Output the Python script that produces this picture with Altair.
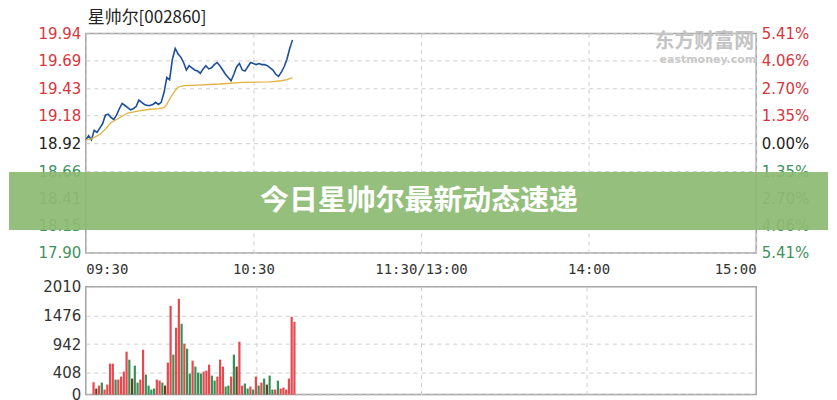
import json
import altair as alt
import pandas as pd

# ---------------- data ----------------
TITLE = "星帅尔[002860]"
BANNER = "今日星帅尔最新动态速递"
WM_CN = "东方财富网"
WM_EN = "eastmoney.com"

time_ticks = [0, 60, 120, 180, 240]
time_labels = ["09:30", "10:30", "11:30/13:00", "14:00", "15:00"]
price_ticks = [17.90, 18.15, 18.41, 18.66, 18.92, 19.18, 19.43, 19.69, 19.94]
pct_labels = ["5.41%", "4.06%", "2.70%", "1.35%", "0.00%", "1.35%", "2.70%", "4.06%", "5.41%"]
prev_close = 18.92
vol_ticks = [0, 408, 942, 1476, 2010]

price_min = list(range(75))
price_val = [18.95, 18.99, 18.95, 19.04, 19.02, 19.06, 19.10, 19.18, 19.19, 19.16,
             19.14, 19.18, 19.24, 19.29, 19.27, 19.25, 19.23, 19.24, 19.26, 19.32,
             19.30, 19.28, 19.27, 19.27, 19.28, 19.30, 19.28, 19.30, 19.39, 19.53,
             19.51, 19.70, 19.80, 19.75, 19.72, 19.67, 19.60, 19.64, 19.62, 19.60,
             19.59, 19.57, 19.61, 19.64, 19.61, 19.62, 19.65, 19.67, 19.64, 19.60,
             19.56, 19.53, 19.50, 19.56, 19.63, 19.66, 19.60, 19.59, 19.63, 19.67,
             19.66, 19.65, 19.66, 19.65, 19.65, 19.64, 19.62, 19.60, 19.56, 19.54,
             19.58, 19.63, 19.70, 19.80, 19.88]

avg_min = [0, 2, 5, 7, 9, 11, 13, 15, 19, 23, 26, 28, 29, 30, 31, 32, 33, 35, 40, 48, 56, 66, 70, 72, 74]
avg_val = [18.95, 18.96, 19.00, 19.05, 19.11, 19.14, 19.17, 19.20, 19.22, 19.235, 19.24, 19.25,
           19.28, 19.33, 19.37, 19.41, 19.44, 19.455, 19.46, 19.47, 19.485, 19.49, 19.50, 19.51, 19.53]

vol_min = list(range(1, 75))
vol_val = [229, 112, 167, 223, 93, 186, 577, 577, 279, 279,
           335, 428, 800, 651, 298, 540, 223, 279, 837, 372,
           167, 93, 112, 279, 260, 223, 167, 595, 1655, 744,
           1246, 1786, 1320, 949, 856, 391, 632, 521, 409, 391,
           428, 446, 558, 353, 260, 335, 651, 521, 149, 167,
           335, 744, 521, 986, 167, 205, 112, 149, 93, 335,
           167, 223, 298, 186, 353, 93, 93, 260, 112, 130,
           93, 298, 1450, 1357]
vol_dir = ["u", "f", "u", "d", "u", "u", "u", "u", "d", "u",
           "u", "u", "u", "d", "f", "d", "d", "u", "u", "d",
           "d", "d", "d", "u", "u", "d", "f", "u", "u", "d",
           "u", "u", "d", "u", "d", "d", "u", "d", "d", "d",
           "u", "u", "u", "d", "d", "u", "u", "u", "d", "d",
           "u", "d", "f", "u", "u", "d", "d", "u", "d", "u",
           "d", "u", "d", "f", "d", "d", "u", "d", "u", "u",
           "u", "u", "u", "u"]

price_df = pd.DataFrame({"m": price_min, "p": price_val})
avg_df = pd.DataFrame({"m": avg_min, "a": avg_val})
vol_df = pd.DataFrame({"m": vol_min, "v": vol_val, "d": vol_dir})

# ---------------- styling ----------------
W, H1, H2 = 672, 220, 108
RED, GREEN, DARK = "#d8353d", "#3f9160", "#222222"
BLUE, GOLD = "#1d4f9a", "#e3b13e"
GRID = "#cfcfcf"
NUM_FONT = "DejaVu Sans"
TIME_FONT = "DejaVu Sans Mono"
CJK = "Noto Sans CJK SC"

label_color = {
    "condition": [
        {"test": f"datum.value > {prev_close + 0.005}", "value": RED},
        {"test": f"datum.value < {prev_close - 0.005}", "value": GREEN},
    ],
    "value": DARK,
}
time_expr = f"{json.dumps(time_labels)}[indexof({json.dumps(time_ticks)}, datum.value)]"
pct_expr = f"{json.dumps(pct_labels)}[indexof({json.dumps(price_ticks)}, datum.value)]"

xscale = alt.Scale(domain=[0, 240], nice=False, zero=False)
yscale = alt.Scale(domain=[17.90, 19.94], nice=False, zero=False)

x_top = alt.X("m:Q", scale=xscale, axis=alt.Axis(
    values=time_ticks, labelExpr=time_expr, labelFlush=True, grid=True,
    gridDash=[4, 4], gridColor=GRID, ticks=False, domain=False, labelPadding=10,
    labelFont=TIME_FONT, labelFontSize=14, labelColor="#333333", title=None))

one = pd.DataFrame({"k": [0]})

price_line = alt.Chart(price_df).mark_line(color=BLUE, strokeWidth=1.6).encode(
    x=x_top,
    y=alt.Y("p:Q", scale=yscale, axis=alt.Axis(
        orient="left", values=price_ticks, format=".2f", labelColor=label_color,
        grid=True, gridDash=[4, 4], gridColor=GRID, ticks=False, domain=False,
        labelPadding=5, labelFont=NUM_FONT, labelFontSize=15, title=None)),
)

avg_line = alt.Chart(avg_df).mark_line(color=GOLD, strokeWidth=1.3).encode(
    x=x_top,
    y=alt.Y("a:Q", scale=yscale, axis=alt.Axis(
        orient="right", values=price_ticks, labelExpr=pct_expr, labelColor=label_color,
        grid=False, ticks=False, domain=False, labelPadding=5,
        labelFont=NUM_FONT, labelFontSize=15, title=None)),
)

wm_cn = alt.Chart(one).mark_text(
    text=WM_CN, font=CJK, fontWeight="bold", fontSize=20, color="#c4c4c4",
    align="right", baseline="middle").encode(x=alt.value(670), y=alt.value(9))
wm_en = alt.Chart(one).mark_text(
    text=WM_EN, font=NUM_FONT, fontWeight="bold", fontSize=11, color="#c9c9c9",
    align="right", baseline="middle").encode(x=alt.value(672), y=alt.value(27))

title = alt.Chart(one).mark_text(
    text=TITLE, font=CJK, fontSize=17, color="#222222",
    align="left", baseline="top").encode(x=alt.value(2), y=alt.value(-23))

banner = alt.Chart(one).mark_rect(color="#8dba72", opacity=0.93).encode(
    x=alt.value(-77), x2=alt.value(744), y=alt.value(139), y2=alt.value(197))
banner_text = alt.Chart(one).mark_text(
    text=BANNER, font=CJK, fontWeight="bold", fontSize=29, color="#ffffff",
    align="center", baseline="middle").encode(x=alt.value(334), y=alt.value(168))

top = alt.layer(wm_cn, wm_en, price_line, avg_line, banner, banner_text, title).resolve_axis(
    y="independent").properties(width=W, height=H1)

bars = alt.Chart(vol_df).mark_bar(size=2.2).encode(
    x=alt.X("m:Q", scale=xscale, axis=alt.Axis(
        values=[60, 120, 180], labels=False, ticks=False, domain=False, grid=True,
        gridDash=[4, 4], gridColor=GRID, title=None)),
    y=alt.Y("v:Q", scale=alt.Scale(domain=[0, 2010], nice=False), axis=alt.Axis(
        values=vol_ticks, format="d", grid=True, gridDash=[4, 4], gridColor=GRID,
        ticks=False, domain=False, labelPadding=5, labelFont=NUM_FONT,
        labelFontSize=15, labelColor="#333333", title=None)),
    color=alt.Color("d:N", scale=alt.Scale(domain=["u", "d", "f"],
                                           range=["#e5484d", "#379058", "#6e3b22"]),
                    legend=None),
).properties(width=W, height=H2)

chart = alt.vconcat(top, bars, spacing=34, bounds="flush").properties(
    padding=0).configure_view(stroke="#a3a3a3", strokeWidth=1.5)

chart.save("out.html", embed_options={"renderer": "svg", "actions": False})
